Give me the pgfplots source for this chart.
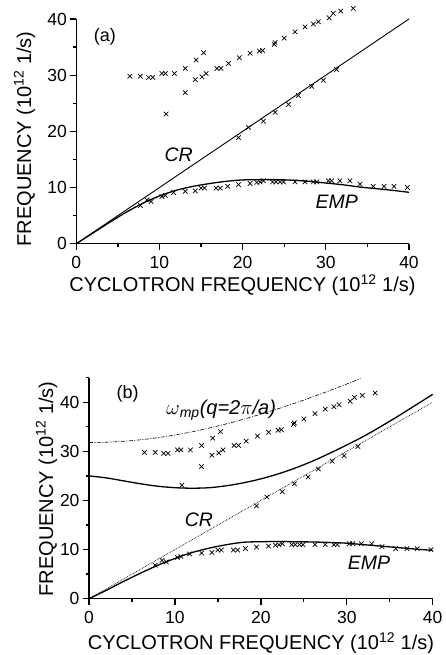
\documentclass[border=0pt]{standalone}
\usepackage{fontspec}
\setmainfont{Liberation Sans}
\usepackage{pgfplots}
\usepackage{pgfplotstable}
\pgfplotsset{compat=1.18}

\pgfplotstableread{
x y
6.45 29.8
7.7 29.8
8.7 29.6
9.2 29.6
10.3 30.3
10.7 30.3
11.8 30.3
13.1 31.2
14.4 32.7
15.3 34.0
14.3 29.2
15.1 29.7
15.6 30.3
16.9 31.2
17.4 31.2
18.3 32.1
19.6 33.1
20.9 33.9
22.0 34.3
22.4 34.4
23.8 35.5
23.9 35.8
25.0 36.6
26.3 37.7
27.5 38.6
28.5 39.1
29.1 39.5
30.4 40.2
30.9 41.0
31.8 41.4
33.3 41.9
13.1 26.9
10.8 23.1
}\upperdata

\pgfplotstableread{
x y
19.5 18.9
20.7 20.7
22.5 21.8
23.9 23.4
25.5 24.8
26.7 26.4
28.3 28.0
29.7 29.1
31.3 31.0
}\crdata

\pgfplotstableread{
x y
7.7 6.8
8.5 7.8
9.0 7.5
10.3 8.4
10.7 8.6
11.7 9.1
13.1 9.3
14.3 9.4
15.0 9.9
15.4 9.9
16.8 9.9
17.3 9.9
18.2 10.2
19.5 10.5
20.9 10.7
21.7 10.9
22.1 11.0
22.5 11.2
23.6 11.0
24.0 11.0
24.5 11.0
24.9 11.0
26.3 11.0
27.5 11.0
28.5 11.0
28.9 11.0
30.3 11.2
30.7 11.2
31.7 11.2
32.9 11.2
34.1 10.6
35.7 10.2
37.0 10.2
38.2 10.2
39.8 10.0
}\empdata

\pgfplotstableread{
x y
0 0
2 1.9
4 3.8
6 5.6
8 7.2
10 8.5
12 9.5
14 10.2
16 10.7
18 11.1
20 11.35
22 11.4
24 11.4
26 11.3
28 11.1
30 10.8
32 10.5
34 10.1
36 9.8
38 9.5
40 9.15
}\empcurveA

\pgfplotstableread{
x y
0 0
2 1.7
4 3.5
6 5.2
8 6.8
10 8.2
12 9.4
14 10.3
16 11.0
18 11.5
20 11.6
22 11.65
24 11.6
26 11.55
28 11.45
30 11.3
32 11.0
34 10.7
36 10.4
38 10.1
40 9.85
}\empcurveB

\pgfplotstableread{
x y
0 25.0
2 24.6
4 24.0
6 23.4
8 22.9
10 22.6
12 22.5
14 22.6
16 23.0
18 23.6
20 24.4
22 25.4
24 26.6
26 28.0
28 29.6
30 31.3
32 33.1
34 35.1
36 37.2
38 39.4
40 41.6
}\uppercurveB

\pgfplotstableread{
x y
0 31.80
2 31.86
4 32.05
6 32.36
8 32.79
10 33.34
12 33.99
14 34.75
16 35.60
18 36.54
20 37.57
22 38.67
24 39.84
26 41.08
28 42.37
30 43.72
31.6 44.83
}\mpcurve

\pgfplotsset{
 myax/.style={
  scale only axis,
  axis lines=left,
  axis line style={-, line width=1.6pt},
  xmin=0, xmax=40,
  xtick={0,10,20,30,40},
  minor xtick={5,15,25,35},
  tick align=outside,
  major tick length=6pt, minor tick length=3.5pt,
  every tick/.style={black, line width=1.3pt},
  tick label style={font=\fontsize{17.5}{17.5}\selectfont},
  xticklabel style={yshift=-3pt},
  /pgf/number format/assume math mode=true,
  clip=false,
 },
 pts/.style={only marks, mark=x, mark size=3.2pt, mark options={line width=0.7pt, black}},
}
\newcommand{\lblfont}{\fontsize{20}{20}\selectfont}

\begin{document}
\begin{tikzpicture}[x=1pt,y=1pt]
\path[use as bounding box] (0,0) rectangle (445,655);
\begin{axis}[myax,
  at={(76.3pt,411.3pt)}, anchor=south west,
  width=332.7pt, height=224.7pt,
  ymin=0, ymax=40,
  ytick={0,10,20,30,40}, minor ytick={5,15,25,35},
]
\addplot[black, line width=0.9pt] coordinates {(0,0) (40,40)};
\addplot[black, line width=1.3pt, smooth] table {\empcurveA};
\addplot[pts] table {\upperdata};
\addplot[pts] table {\crdata};
\addplot[pts] table {\empdata};
\node[font=\fontsize{18}{18}\selectfont] at (axis cs:3.45,36.8) {(a)};
\node[font=\fontsize{19.5}{19.5}\selectfont\itshape] at (axis cs:12.3,15.8) {CR};
\node[font=\fontsize{19.5}{19.5}\selectfont\itshape] at (axis cs:31.3,7.5) {EMP};
\end{axis}

\begin{axis}[myax,
  at={(89pt,56.3pt)}, anchor=south west,
  width=343.7pt, height=221pt,
  ymin=0, ymax=45,
  ytick={0,10,20,30,40}, minor ytick={5,15,25,35,45},
]
\addplot[black, line width=0.7pt, densely dotted] coordinates {(0,0) (40,40)};
\addplot[black, line width=0.6pt, dash pattern=on 4pt off 1.5pt on 1pt off 1.5pt, smooth] table {\mpcurve};
\addplot[black, line width=1.3pt, smooth] table {\uppercurveB};
\addplot[black, line width=1.3pt, smooth] table {\empcurveB};
\addplot[pts] table {\upperdata};
\addplot[pts] table {\crdata};
\addplot[pts] table {\empdata};
\node[font=\fontsize{18}{18}\selectfont] at (axis cs:4.5,41.7) {(b)};
\node[font=\fontsize{20}{20}\selectfont\itshape, anchor=west] at (axis cs:8.6,38.4) {$\omega$\textsubscript{mp}(q=2$\pi$/a)};
\node[font=\fontsize{19.5}{19.5}\selectfont\itshape] at (axis cs:12.8,16.0) {CR};
\node[font=\fontsize{19.5}{19.5}\selectfont\itshape] at (axis cs:32.6,7.4) {EMP};
\end{axis}
\node[font=\lblfont] at (242.5,370) {CYCLOTRON FREQUENCY (10\textsuperscript{12} 1/s)};
\node[font=\lblfont, rotate=90] at (24.5,516) {FREQUENCY (10\textsuperscript{12} 1/s)};
\node[font=\lblfont] at (261,12) {CYCLOTRON FREQUENCY (10\textsuperscript{12} 1/s)};
\node[font=\lblfont, rotate=90] at (46.5,166) {FREQUENCY (10\textsuperscript{12} 1/s)};
\end{tikzpicture}
\end{document}
